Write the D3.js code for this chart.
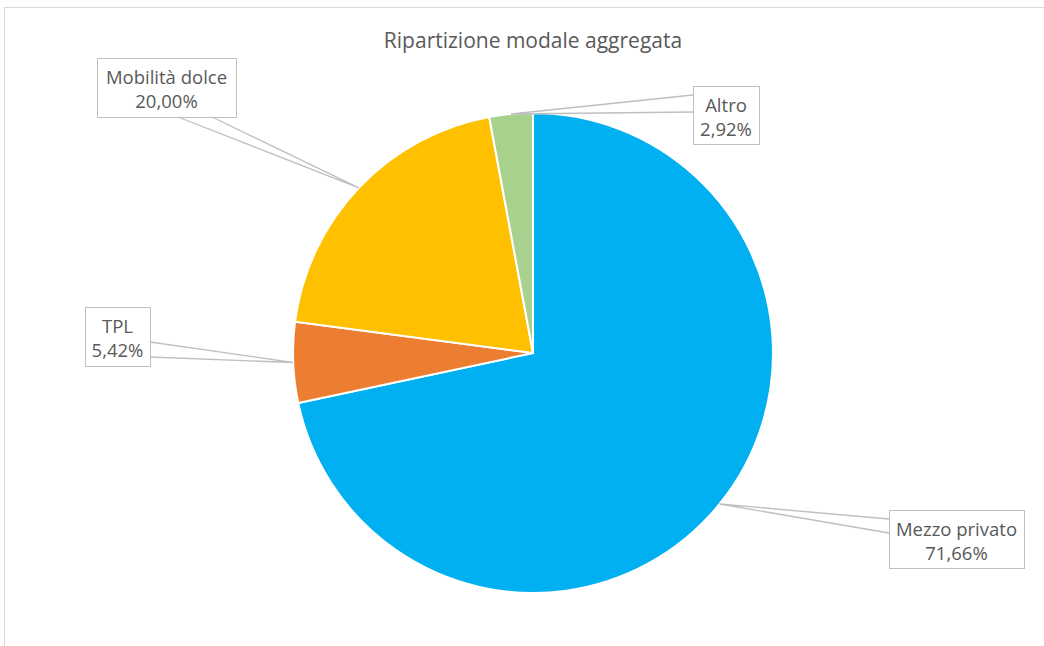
<!DOCTYPE html>
<html>
<head>
<meta charset="utf-8">
<script src="https://cdn.jsdelivr.net/npm/d3@7"></script>
<style>
  body { margin: 0; background: #fff; }
  text { font-family: "Open Sans", "Noto Sans", sans-serif; fill: #595959; }
</style>
</head>
<body>
<svg id="chart" width="1044" height="646"></svg>
<script>
const categories = ["Mezzo privato", "TPL", "Mobilità dolce", "Altro"];
const values = [71.66, 5.42, 20.0, 2.92];
const colors = ["#00B0F0", "#ED7D31", "#FFC000", "#A9D18E"];
const title = "Ripartizione modale aggregata";

// label box placement (box x, y, w, h) and where the callout wedge leaves the box
const boxes = [
  { x: 889, y: 510, w: 135, h: 58, a: [[889, 519], [889, 533]] },
  { x: 85, y: 307, w: 65, h: 59, a: [[150, 342], [150, 357]] },
  { x: 97, y: 58, w: 139, h: 59, a: [[178, 117], [212, 117]] },
  { x: 693, y: 86, w: 66, h: 58, a: [[693, 95], [693, 112]] }
];

const svg = d3.select("#chart");
const cx = 533, cy = 353, r = 240;

svg.append("rect")
  .attr("x", 4.5).attr("y", 7.5)
  .attr("width", 1100).attr("height", 700)
  .attr("fill", "none").attr("stroke", "#d9d9d9");

svg.append("text")
  .attr("x", cx).attr("y", 48)
  .attr("text-anchor", "middle")
  .style("font-size", "21px")
  .text(title);

const data = categories.map((c, i) => ({ name: c, value: values[i], color: colors[i] }));
const pie = d3.pie().sort(null).value(d => d.value);
const arc = d3.arc().innerRadius(0).outerRadius(r);
const arcs = pie(data);

const g = svg.append("g").attr("transform", "translate(" + cx + "," + cy + ")");
g.selectAll("path")
  .data(arcs)
  .join("path")
  .attr("d", arc)
  .attr("fill", d => d.data.color)
  .attr("stroke", "#fff")
  .attr("stroke-width", 2);

const fmt = v => d3.format(".2f")(v).replace(".", ",") + "%";

arcs.forEach((d, i) => {
  const b = boxes[i];
  const mid = (d.startAngle + d.endAngle) / 2;
  const px = cx + r * Math.sin(mid), py = cy - r * Math.cos(mid);

  svg.append("rect")
    .attr("x", b.x + 0.5).attr("y", b.y + 0.5)
    .attr("width", b.w).attr("height", b.h)
    .attr("fill", "#fff").attr("stroke", "#bfbfbf");

  svg.append("path")
    .attr("d", "M" + b.a[0][0] + "," + b.a[0][1] + "L" + px + "," + py + "L" + b.a[1][0] + "," + b.a[1][1])
    .attr("fill", "none").attr("stroke", "#bfbfbf").attr("stroke-width", 1.3);

  const t = svg.append("text")
    .attr("text-anchor", "middle")
    .style("font-size", "18.5px");
  t.append("tspan").attr("x", b.x + b.w / 2).attr("y", b.y + 26).text(d.data.name);
  t.append("tspan").attr("x", b.x + b.w / 2).attr("y", b.y + 50).text(fmt(d.data.value));
});
</script>
</body>
</html>
